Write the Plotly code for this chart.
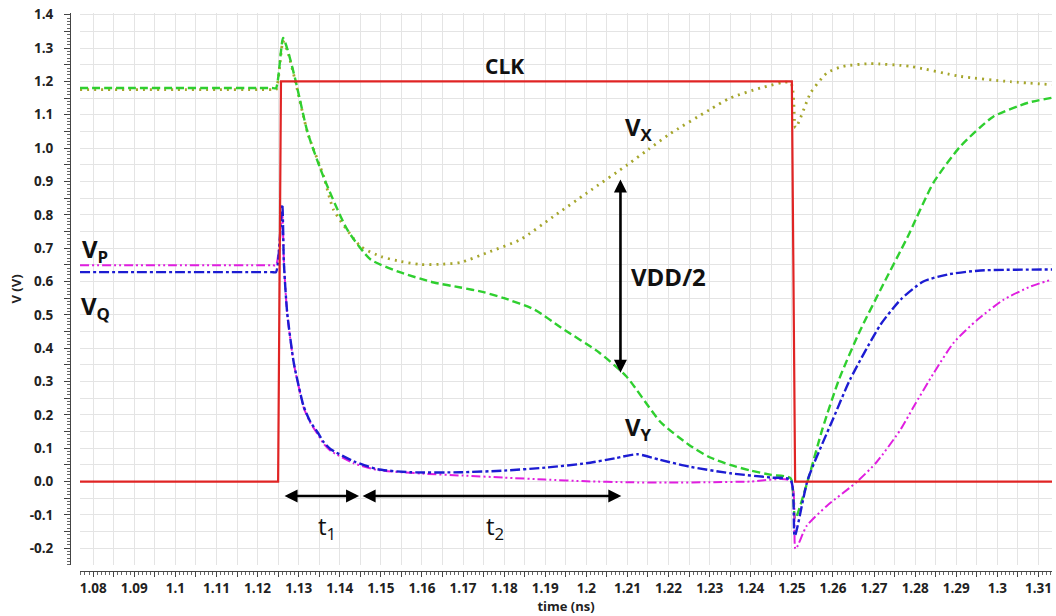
import plotly.graph_objects as go

# ---- waveform samples (time in ns, voltage in V) ----
clk_t = [1.0768, 1.1250, 1.1257, 1.2500, 1.2508, 1.3133]
clk_v = [0.0, 0.0, 1.2, 1.2, 0.0, 0.0]

vy_t = [1.0768, 1.0900, 1.1000, 1.1100, 1.1200, 1.1235, 1.1245, 1.1262, 1.1273,
        1.1292, 1.1322, 1.1361, 1.1418, 1.1475, 1.1548, 1.1629, 1.1694, 1.1750,
        1.1800, 1.1875, 1.1938, 1.2031, 1.2097, 1.2181, 1.2250, 1.2300, 1.2350,
        1.2400, 1.2450, 1.2497, 1.2508, 1.2538, 1.2575, 1.2615, 1.2665, 1.2716,
        1.2781, 1.2845, 1.2910, 1.2990, 1.3075, 1.3133]
vy_v = [1.180, 1.180, 1.180, 1.180, 1.180, 1.180, 1.180, 1.330, 1.295,
        1.205, 1.046, 0.912, 0.756, 0.666, 0.627, 0.597, 0.582, 0.568,
        0.550, 0.515, 0.462, 0.387, 0.316, 0.178, 0.110, 0.073, 0.050,
        0.033, 0.020, 0.010, -0.112, 0.000, 0.160, 0.307, 0.450, 0.576,
        0.732, 0.897, 1.005, 1.094, 1.136, 1.151]

vx_t = [1.0768, 1.0900, 1.1000, 1.1100, 1.1200, 1.1235, 1.1245, 1.1262, 1.1273,
        1.1292, 1.1322, 1.1361, 1.1385, 1.1451, 1.1500, 1.1548, 1.1597, 1.1650,
        1.1694, 1.1760, 1.1840, 1.1920, 1.2002, 1.2100, 1.2150, 1.2200, 1.2300,
        1.2350, 1.2424, 1.2497, 1.2509, 1.2546, 1.2586, 1.2625, 1.2690, 1.2788,
        1.2910, 1.3032, 1.3133]
vx_v = [1.175, 1.175, 1.175, 1.175, 1.175, 1.175, 1.175, 1.320, 1.290,
        1.200, 1.045, 0.915, 0.815, 0.705, 0.675, 0.660, 0.651, 0.652,
        0.657, 0.687, 0.726, 0.795, 0.866, 0.950, 0.995, 1.040, 1.115,
        1.150, 1.180, 1.196, 1.061, 1.166, 1.226, 1.245, 1.253, 1.245,
        1.215, 1.199, 1.190]

vq_t = [1.0768, 1.0900, 1.1000, 1.1100, 1.1200, 1.1235, 1.1245, 1.1260, 1.1264,
        1.1272, 1.1288, 1.1300, 1.1312, 1.1329, 1.1346, 1.1361, 1.1378, 1.1434,
        1.1492, 1.1572, 1.1694, 1.1800, 1.1900, 1.2000, 1.2070, 1.2124, 1.2180,
        1.2250, 1.2350, 1.2450, 1.2497, 1.2507, 1.2539, 1.2600, 1.2642, 1.2716,
        1.2765, 1.2820, 1.2879, 1.2959, 1.3133]
vq_v = [0.628, 0.628, 0.628, 0.628, 0.628, 0.628, 0.628, 0.831, 0.657,
        0.507, 0.357, 0.287, 0.226, 0.178, 0.148, 0.118, 0.097, 0.061,
        0.037, 0.028, 0.028, 0.033, 0.042, 0.055, 0.070, 0.082, 0.065,
        0.045, 0.025, 0.012, 0.005, -0.163, 0.007, 0.187, 0.307, 0.471,
        0.546, 0.600, 0.621, 0.633, 0.636]

vp_t = [1.0768, 1.0900, 1.1000, 1.1100, 1.1200, 1.1235, 1.1245, 1.1260, 1.1264,
        1.1272, 1.1288, 1.1300, 1.1312, 1.1329, 1.1346, 1.1361, 1.1378, 1.1434,
        1.1492, 1.1600, 1.1700, 1.1800, 1.1900, 1.2000, 1.2100, 1.2200, 1.2300,
        1.2400, 1.2497, 1.2509, 1.2536, 1.2585, 1.2658, 1.2706, 1.2765, 1.2797,
        1.2846, 1.2894, 1.2952, 1.3016, 1.3081, 1.3133]
vp_v = [0.649, 0.649, 0.649, 0.649, 0.649, 0.649, 0.649, 0.800, 0.660,
        0.505, 0.355, 0.285, 0.222, 0.175, 0.143, 0.113, 0.092, 0.055,
        0.035, 0.024, 0.018, 0.012, 0.006, 0.001, -0.002, -0.003, -0.002,
        0.000, 0.002, -0.202, -0.133, -0.073, -0.001, 0.058, 0.157, 0.226,
        0.327, 0.417, 0.486, 0.546, 0.585, 0.606]

# ---- axis ticks ----
x_tick_labels = ["1.08", "1.09", "1.1", "1.11", "1.12", "1.13", "1.14", "1.15",
                 "1.16", "1.17", "1.18", "1.19", "1.2", "1.21", "1.22", "1.23",
                 "1.24", "1.25", "1.26", "1.27", "1.28", "1.29", "1.3", "1.31"]
y_tick_labels = ["-0.2", "-0.1", "0.0", "0.1", "0.2", "0.3", "0.4", "0.5", "0.6",
                 "0.7", "0.8", "0.9", "1.0", "1.1", "1.2", "1.3", "1.4"]

# ---- timing markers ----
t1_span = (1.1262, 1.1447)
t2_span = (1.1452, 1.2085)
t_arrow_level = -0.043
half_vdd_time = 1.2083
half_vdd_span = (0.322, 0.906)


def with_half_steps(labels):
    """Tick positions at every label plus blank ticks halfway between them."""
    vals = [float(s) for s in labels]
    out_v, out_t = [], []
    for i, v in enumerate(vals):
        out_v.append(v)
        out_t.append(labels[i])
        if i + 1 < len(vals):
            out_v.append((v + vals[i + 1]) / 2)
            out_t.append("")
    return out_v, out_t


xtv, xtt = with_half_steps(x_tick_labels)
ytv, ytt = with_half_steps(y_tick_labels)

fig = go.Figure()

smooth = dict(shape="spline", smoothing=0.6)
fig.add_trace(go.Scatter(x=vx_t, y=vx_v, mode="lines",
                         line=dict(color="#a6a62c", width=2.8, dash="2px,5px",
                                   **smooth)))
fig.add_trace(go.Scatter(x=vy_t, y=vy_v, mode="lines",
                         line=dict(color="#2fcf2f", width=2.4, dash="8px,4px",
                                   **smooth)))
fig.add_trace(go.Scatter(x=vp_t, y=vp_v, mode="lines",
                         line=dict(color="#e01ee0", width=2.0,
                                   dash="9px,3px,2px,3px,2px,3px", **smooth)))
fig.add_trace(go.Scatter(x=vq_t, y=vq_v, mode="lines",
                         line=dict(color="#1c1cd2", width=2.4,
                                   dash="10px,3px,3px,3px", **smooth)))
fig.add_trace(go.Scatter(x=clk_t, y=clk_v, mode="lines",
                         line=dict(color="#e02424", width=2.2)))

bold = dict(family="Open Sans", color="#111111", weight="bold")
annotations = [
    dict(x=1.1801, y=1.247, text="CLK", font=dict(size=21, **bold)),
    dict(x=1.2129, y=1.06, text="V<sub>X</sub>", font=dict(size=24, **bold)),
    dict(x=1.2200, y=0.615, text="VDD/2", font=dict(size=24, **bold)),
    dict(x=1.2126, y=0.16, text="V<sub>Y</sub>", font=dict(size=24, **bold)),
    dict(x=1.0805, y=0.695, text="V<sub>P</sub>", font=dict(size=24, **bold)),
    dict(x=1.0805, y=0.525, text="V<sub>Q</sub>", font=dict(size=24, **bold)),
    dict(x=1.1368, y=-0.135, text="t<sub>1</sub>",
         font=dict(size=24, family="Open Sans", color="#111111")),
    dict(x=1.1777, y=-0.135, text="t<sub>2</sub>",
         font=dict(size=24, family="Open Sans", color="#111111")),
]
for a in annotations:
    a.update(xref="x", yref="y", showarrow=False)

# double-headed arrows for t1, t2 and the VDD/2 separation
arrow_style = dict(xref="x", yref="y", axref="x", ayref="y", text="",
                   showarrow=True, arrowhead=2, startarrowhead=2,
                   arrowside="end+start", arrowsize=1.0, startarrowsize=1.0,
                   arrowwidth=2.6, arrowcolor="#000000", standoff=0,
                   startstandoff=0)
annotations.append(dict(x=t1_span[1], y=t_arrow_level, ax=t1_span[0],
                        ay=t_arrow_level, **arrow_style))
annotations.append(dict(x=t2_span[1], y=t_arrow_level, ax=t2_span[0],
                        ay=t_arrow_level, **arrow_style))
annotations.append(dict(x=half_vdd_time, y=half_vdd_span[1], ax=half_vdd_time,
                        ay=half_vdd_span[0], **arrow_style))

tick_font = dict(family="Open Sans", size=13.5, color="#222222", weight="bold")
title_font = dict(family="Open Sans", size=13, color="#222222", weight="bold")
grid_color = "#e4e4e4"

fig.update_layout(
    width=1056, height=616,
    margin=dict(l=70, r=4, t=13, b=45),
    paper_bgcolor="white", plot_bgcolor="white",
    showlegend=False,
    annotations=annotations,
    xaxis=dict(
        range=[1.0768, 1.3133], domain=[0.0102, 1.0], anchor="free", position=0,
        tickmode="array", tickvals=xtv, ticktext=xtt,
        ticks="outside", ticklen=5, tickwidth=1, tickcolor="#444444",
        showline=True, linecolor="#444444", linewidth=1,
        showgrid=True, gridcolor=grid_color, gridwidth=1, zeroline=False,
        minor=dict(dtick=0.001, ticks="outside", ticklen=3, tickcolor="#666666",
                   showgrid=False),
        tickfont=tick_font,
        title=dict(text="time (ns)", standoff=2, font=title_font),
    ),
    yaxis=dict(
        range=[-0.25, 1.405], domain=[0.0108, 1.0], anchor="free", position=0,
        tickmode="array", tickvals=ytv, ticktext=ytt,
        ticks="outside", ticklen=6, tickwidth=1, tickcolor="#444444",
        showline=True, linecolor="#444444", linewidth=1,
        showgrid=True, gridcolor=grid_color, gridwidth=1, zeroline=False,
        minor=dict(dtick=0.01, ticks="outside", ticklen=3, tickcolor="#666666",
                   showgrid=False),
        tickfont=tick_font, ticklabelstandoff=8,
        title=dict(text="V (V)", standoff=4, font=title_font),
    ),
)

fig.write_html("out.html")
